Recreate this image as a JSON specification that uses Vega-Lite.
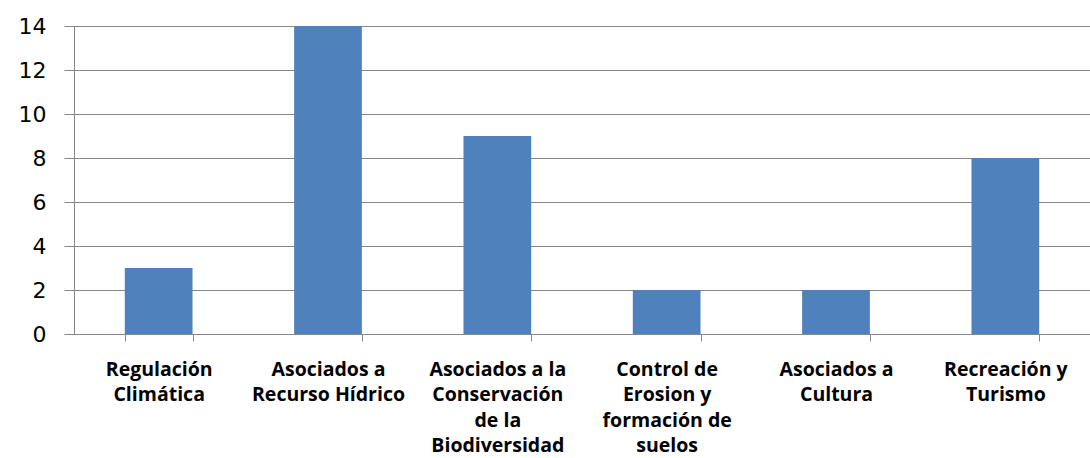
{
  "$schema": "https://vega.github.io/schema/vega-lite/v6.json",
  "autosize": "none",
  "padding": {"left": 74, "top": 26, "right": 0, "bottom": 124},
  "width": 1016,
  "height": 308,
  "background": "white",
  "data": {
    "values": [
      {"cat": "Regulación|Climática", "value": 3},
      {"cat": "Asociados a|Recurso Hídrico", "value": 14},
      {"cat": "Asociados a la|Conservación|de la|Biodiversidad", "value": 9},
      {"cat": "Control de|Erosion y|formación de|suelos", "value": 2},
      {"cat": "Asociados a|Cultura", "value": 2},
      {"cat": "Recreación y|Turismo", "value": 8}
    ]
  },
  "config": {
    "view": {"stroke": null},
    "font": "Open Sans"
  },
  "mark": {"type": "bar", "color": "#4F81BD"},
  "encoding": {
    "x": {
      "field": "cat",
      "type": "nominal",
      "sort": null,
      "scale": {"paddingInner": 0.6, "paddingOuter": 0.3},
      "axis": {
        "title": null,
        "labelAngle": 0,
        "labelExpr": "split(datum.label, '|')",
        "labelFont": "Open Sans",
        "labelFontWeight": "bold",
        "labelFontSize": 19.5,
        "labelColor": "#000000",
        "labelLineHeight": 25.5,
        "labelBaseline": "top",
        "labelPadding": 19,
        "labelLimit": 0,
        "tickBand": "extent",
        "tickSize": 7,
        "tickColor": "#868686",
        "domainColor": "#868686",
        "grid": false
      }
    },
    "y": {
      "field": "value",
      "type": "quantitative",
      "scale": {"domain": [0, 14], "nice": false},
      "axis": {
        "title": null,
        "values": [0, 2, 4, 6, 8, 10, 12, 14],
        "labelFont": "DejaVu Sans",
        "labelFontSize": 22,
        "labelColor": "#000000",
        "labelPadding": 18,
        "tickSize": 10,
        "tickColor": "#868686",
        "domainColor": "#868686",
        "gridColor": "#868686",
        "gridWidth": 1
      }
    }
  }
}
